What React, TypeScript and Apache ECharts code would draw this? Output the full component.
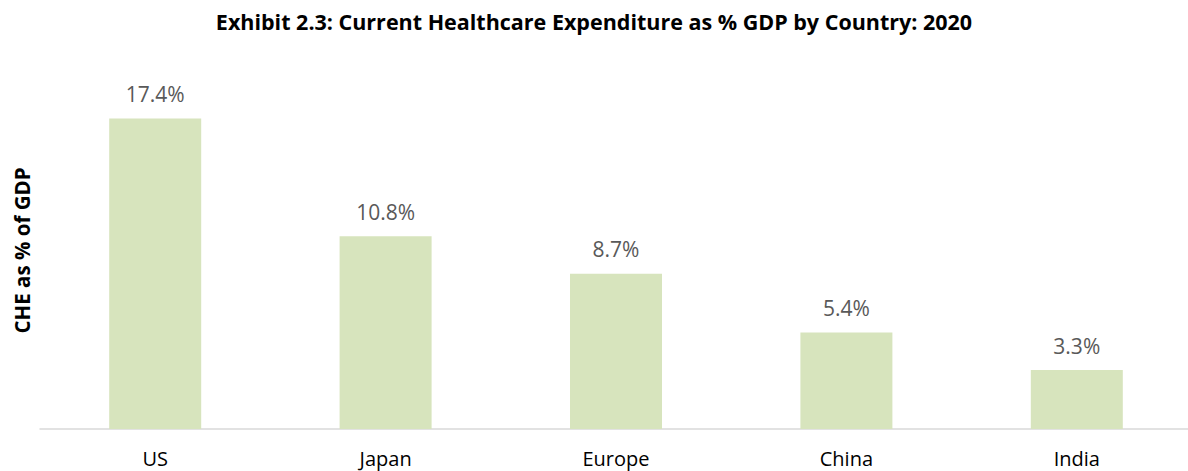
import React, { useEffect, useRef } from "react";
import * as echarts from "echarts";

const categories = ["US", "Japan", "Europe", "China", "India"];
const values = [17.4, 10.8, 8.7, 5.4, 3.3];
const titleText = "Exhibit 2.3: Current Healthcare Expenditure as % GDP by Country: 2020";
const yAxisName = "CHE as % of GDP";

export default function App() {
  const ref = useRef<HTMLDivElement>(null);
  useEffect(() => {
    document.body.style.margin = "0";
    const chart = echarts.init(ref.current!, null, { renderer: "svg" });
    chart.setOption({
      animation: false,
      backgroundColor: "#ffffff",
      title: {
        text: titleText,
        left: "center",
        top: 5,
        textStyle: {
          fontFamily: "Open Sans",
          fontWeight: "bold",
          fontSize: 21.5,
          color: "#000000",
        },
      },
      grid: {
        left: 40,
        top: 72,
        right: -4,
        bottom: 42,
        containLabel: false,
        outerBoundsMode: "none",
      },
      xAxis: {
        type: "category",
        data: categories,
        axisLine: { lineStyle: { color: "#d9d9d9", width: 1.5 } },
        axisTick: { show: false },
        axisLabel: {
          color: "#000000",
          fontFamily: "Open Sans",
          fontSize: 20,
          margin: 19,
        },
      },
      yAxis: {
        type: "value",
        min: 0,
        max: 20,
        show: true,
        axisLine: { show: false },
        axisTick: { show: false },
        axisLabel: { show: false },
        splitLine: { show: false },
        name: yAxisName,
        nameLocation: "middle",
        nameGap: 8,
        nameTextStyle: {
          fontFamily: "Open Sans",
          fontWeight: "bold",
          fontSize: 20.5,
          color: "#000000",
        },
      },
      series: [
        {
          type: "bar",
          data: values,
          barWidth: 92,
          itemStyle: { color: "#d7e4bd" },
          label: {
            show: true,
            position: "top",
            distance: 14,
            formatter: (p: any) => p.value.toFixed(1) + "%",
            color: "#595959",
            fontFamily: "Open Sans",
            fontSize: 21,
          },
        },
      ],
    });
    return () => chart.dispose();
  }, []);
  return <div ref={ref} style={{ width: 1188, height: 471 }} />;
}
